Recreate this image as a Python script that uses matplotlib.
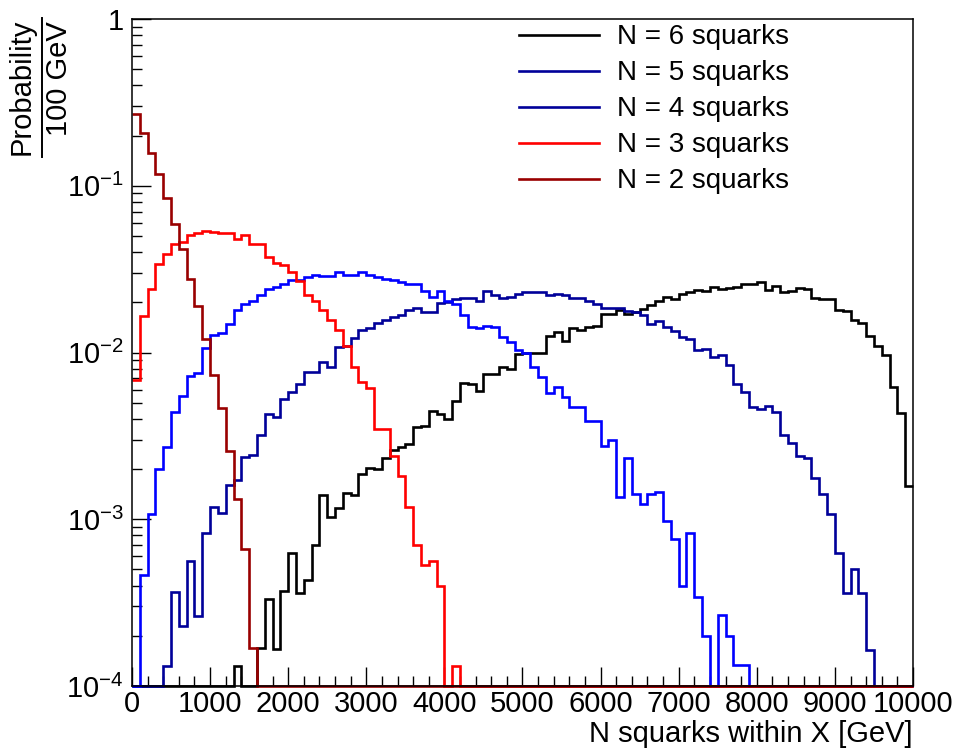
import numpy as np
import matplotlib
matplotlib.use("Agg")
import matplotlib.pyplot as plt
from matplotlib.lines import Line2D
from matplotlib.ticker import FixedLocator, LogLocator, FuncFormatter, NullFormatter, MultipleLocator

plt.rcParams['font.family'] = ['Liberation Sans', 'DejaVu Sans']
plt.rcParams['mathtext.fontset'] = 'custom'
plt.rcParams['mathtext.rm'] = 'Liberation Sans'
plt.rcParams['mathtext.it'] = 'Liberation Sans:italic'
plt.rcParams['mathtext.bf'] = 'Liberation Sans:bold'

# 100 bins of 100 GeV, 0 - 10000 GeV
bin_edges = np.linspace(0, 10000, 101)

# probability per 100 GeV bin (0 = empty bin)
n6 = [0, 0, 0, 0, 0, 0, 0, 0, 0, 0,
      0, 0, 0, 0.000132, 0, 0, 0.000168, 0.000334, 0.000166, 0.000369,
      0.00063, 0.000363, 0.000431, 0.0007, 0.0014, 0.00103, 0.00117, 0.00144, 0.0014, 0.00187,
      0.00203, 0.002, 0.00233, 0.0026, 0.00272, 0.00284, 0.0036, 0.00365, 0.00447, 0.00425,
      0.00398, 0.00515, 0.00657, 0.00643, 0.00591, 0.00745, 0.00745, 0.00817, 0.00793, 0.00973,
      0.0099, 0.01, 0.01, 0.0126, 0.0132, 0.0118, 0.0141, 0.0136, 0.0142, 0.0145,
      0.0171, 0.0171, 0.0179, 0.0171, 0.0174, 0.0182, 0.0194, 0.0205, 0.0215, 0.0208,
      0.0225, 0.023, 0.0238, 0.0233, 0.0247, 0.0241, 0.0244, 0.0247, 0.0258, 0.0258,
      0.0265, 0.0236, 0.0249, 0.023, 0.0233, 0.0245, 0.0241, 0.0213, 0.021, 0.0208,
      0.018, 0.0177, 0.0157, 0.015, 0.0126, 0.0109, 0.0097, 0.00625, 0.00434, 0.00159]

n5 = [0, 0, 0, 0, 0.000132, 0.000367, 0.00023, 0.00056, 0.000263, 0.00083,
      0.00119, 0.00109, 0.00161, 0.00172, 0.00235, 0.00244, 0.00318, 0.00425, 0.0041, 0.00527,
      0.00578, 0.0065, 0.0076, 0.0076, 0.00874, 0.00817, 0.0108, 0.011, 0.0123, 0.0137,
      0.0141, 0.0151, 0.0157, 0.0164, 0.0167, 0.0179, 0.0185, 0.0174, 0.0175, 0.0199,
      0.02, 0.021, 0.0213, 0.0213, 0.0204, 0.0233, 0.0222, 0.0212, 0.0215, 0.0223,
      0.0232, 0.0232, 0.023, 0.0222, 0.0225, 0.022, 0.0213, 0.0213, 0.0205, 0.0196,
      0.0186, 0.0186, 0.0186, 0.0177, 0.0176, 0.0167, 0.0149, 0.0154, 0.0142, 0.0135,
      0.0124, 0.0121, 0.0104, 0.0105, 0.00946, 0.0096, 0.00836, 0.00643, 0.00578, 0.00474,
      0.00459, 0.0048, 0.00438, 0.00318, 0.00285, 0.0024, 0.00234, 0.00176, 0.00142, 0.00107,
      0.00063, 0.000363, 0.000502, 0.000363, 0.000164, 0, 0, 0, 0, 0]

n4 = [0, 0.000464, 0.00107, 0.002, 0.0027, 0.00442, 0.0055, 0.0072, 0.0075, 0.0107,
      0.0127, 0.0131, 0.0149, 0.0179, 0.0196, 0.0205, 0.022, 0.0241, 0.0247, 0.0258,
      0.0273, 0.0271, 0.0283, 0.029, 0.0289, 0.0286, 0.0304, 0.029, 0.0292, 0.0304,
      0.029, 0.0283, 0.0277, 0.0273, 0.0265, 0.0258, 0.0258, 0.0235, 0.0215, 0.0233,
      0.0205, 0.0196, 0.0167, 0.0142, 0.014, 0.0144, 0.0142, 0.0124, 0.0115, 0.0103,
      0.0099, 0.00817, 0.0071, 0.0057, 0.00625, 0.0054, 0.00474, 0.00474, 0.0039, 0.00388,
      0.00276, 0.003, 0.00136, 0.00232, 0.00142, 0.00123, 0.00142, 0.00146, 0.00097, 0.00076,
      0.0004, 0.00083, 0.00034, 0.0002, 0, 0.000266, 0.0002, 0.000133, 0.000133, 0,
      0, 0, 0, 0, 0, 0, 0, 0, 0, 0,
      0, 0, 0, 0, 0, 0, 0, 0, 0, 0]

n3 = [0.0068, 0.0165, 0.0241, 0.0338, 0.0388, 0.0446, 0.046, 0.0505, 0.0524, 0.0533,
      0.0529, 0.052, 0.0524, 0.0477, 0.0505, 0.045, 0.0446, 0.0374, 0.0344, 0.0334,
      0.0304, 0.0268, 0.022, 0.0203, 0.0179, 0.0157, 0.0137, 0.011, 0.00817, 0.00663,
      0.0061, 0.00348, 0.00348, 0.0024, 0.00182, 0.00119, 0.0007, 0.00053, 0.00056, 0.0004,
      0, 0.000132, 0, 0, 0, 0, 0, 0, 0, 0,
      0, 0, 0, 0, 0, 0, 0, 0, 0, 0,
      0, 0, 0, 0, 0, 0, 0, 0, 0, 0,
      0, 0, 0, 0, 0, 0, 0, 0, 0, 0,
      0, 0, 0, 0, 0, 0, 0, 0, 0, 0,
      0, 0, 0, 0, 0, 0, 0, 0, 0, 0]

n2 = [0.27, 0.206, 0.158, 0.118, 0.0845, 0.0593, 0.042, 0.0277, 0.0189, 0.012,
      0.00734, 0.00466, 0.00258, 0.00132, 0.00066, 0.000168, 0, 0, 0, 0,
      0, 0, 0, 0, 0, 0, 0, 0, 0, 0,
      0, 0, 0, 0, 0, 0, 0, 0, 0, 0,
      0, 0, 0, 0, 0, 0, 0, 0, 0, 0,
      0, 0, 0, 0, 0, 0, 0, 0, 0, 0,
      0, 0, 0, 0, 0, 0, 0, 0, 0, 0,
      0, 0, 0, 0, 0, 0, 0, 0, 0, 0,
      0, 0, 0, 0, 0, 0, 0, 0, 0, 0,
      0, 0, 0, 0, 0, 0, 0, 0, 0, 0]

labels = ["N = 6 squarks", "N = 5 squarks", "N = 4 squarks", "N = 3 squarks", "N = 2 squarks"]
series = [n6, n5, n4, n3, n2]
colors = ["#000000", "#000099", "#0000ff", "#ff0000", "#990000"]
legend_colors = ["#000000", "#000099", "#000099", "#ff0000", "#990000"]

ymin, ymax = 1e-4, 1.0

fig = plt.figure(figsize=(9.55, 7.49), dpi=100)
ax = fig.add_axes([0.1382, 0.0841, 0.8178, 0.8905])

for i, (vals, col) in enumerate(zip(series, colors)):
    v = np.array(vals, dtype=float)
    v = np.where(v > 0, v, ymin)  # empty bins sit on the axis, like ROOT
    ax.stairs(v, bin_edges, baseline=None, color=col, linewidth=1.9,
              zorder=2 + i * 0.1, clip_on=False)

ax.set_yscale('log')
ax.set_xlim(0, 10000)
ax.set_ylim(ymin, ymax)

ax.yaxis.set_major_locator(FixedLocator([1e-4, 1e-3, 1e-2, 1e-1, 1]))
ax.yaxis.set_major_formatter(FuncFormatter(
    lambda y, pos: "1" if y >= 1 else r"$10^{%d}$" % int(round(np.log10(y)))))
ax.yaxis.set_minor_locator(LogLocator(base=10, subs=np.arange(2, 10)))
ax.yaxis.set_minor_formatter(NullFormatter())
ax.xaxis.set_major_locator(MultipleLocator(1000))
ax.xaxis.set_minor_locator(MultipleLocator(200))
ax.xaxis.set_major_formatter(FuncFormatter(lambda x, pos: "%d" % x))

ax.tick_params(which='both', direction='in', top=False, right=False, width=1.0, color='black')
ax.tick_params(which='major', length=14)
ax.tick_params(which='minor', length=7)
ax.tick_params(axis='x', which='major', labelsize=21, pad=3)
ax.tick_params(axis='y', which='major', labelsize=21, pad=6)
for sp in ax.spines.values():
    sp.set_linewidth(1.1)

ax.set_xlabel("N squarks within X [GeV]", fontsize=21, loc='right', labelpad=1)

# y title as a fraction
fig.text(22 / 955, 1 - 87 / 749, "Probability", rotation=90, fontsize=21,
         ha='center', va='center')
fig.text(59 / 955, 1 - 79 / 749, "100 GeV", rotation=90, fontsize=21,
         ha='center', va='center')
fig.add_artist(Line2D([42 / 955, 42 / 955], [1 - 18 / 749, 1 - 157 / 749],
                      transform=fig.transFigure, color='black', linewidth=1.4))

handles = [Line2D([], [], color=c, linewidth=1.9) for c in legend_colors]
ax.legend(handles, labels, loc='upper left', bbox_to_anchor=(497 / 955, 1 - 2 / 749),
          bbox_transform=fig.transFigure, frameon=False, fontsize=20,
          handlelength=2.88, handletextpad=0.65, labelspacing=0.36, borderpad=0.3)

fig.savefig("out.png", dpi=100)
